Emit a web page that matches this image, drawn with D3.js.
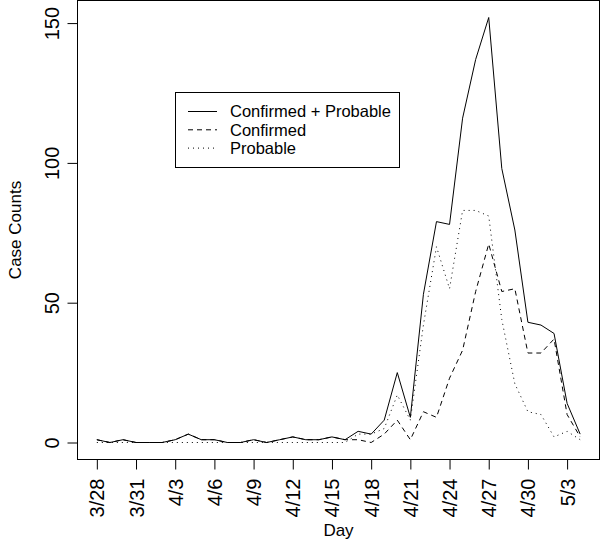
<!DOCTYPE html>
<html>
<head>
<meta charset="utf-8">
<script src="https://cdn.jsdelivr.net/npm/d3@7"></script>
<style>
  body { margin: 0; background: #fff; }
  svg { display: block; font-family: 'Liberation Sans', Arial, sans-serif; }
  .line { fill: none; stroke: #000; stroke-width: 1; }
</style>
</head>
<body>
<div id="chart"></div>
<script>
// daily counts, 3/28 .. 5/4
const days = [
  '3/28', '3/29', '3/30', '3/31', '4/1', '4/2', '4/3', '4/4', '4/5', '4/6',
  '4/7', '4/8', '4/9', '4/10', '4/11', '4/12', '4/13', '4/14', '4/15', '4/16',
  '4/17', '4/18', '4/19', '4/20', '4/21', '4/22', '4/23', '4/24', '4/25', '4/26',
  '4/27', '4/28', '4/29', '4/30', '5/1', '5/2', '5/3', '5/4',
];
const total = [
  1, 0, 1, 0, 0, 0, 1, 3, 1, 1,
  0, 0, 1, 0, 1, 2, 1, 1, 2, 1,
  4, 3, 8, 25, 9, 53, 79, 78, 116, 137,
  152, 98, 76, 43, 42, 39, 14, 3,
];
const confirmed = [
  1, 0, 1, 0, 0, 0, 1, 3, 1, 1,
  0, 0, 1, 0, 1, 2, 1, 1, 2, 1,
  1, 0, 3, 8, 1, 11, 9, 23, 33, 54,
  71, 54, 55, 32, 32, 37, 10, 2,
];
const probable = [
  0, 0, 0, 0, 0, 0, 0, 0, 0, 0,
  0, 0, 0, 0, 0, 0, 0, 0, 0, 0,
  3, 3, 5, 17, 8, 42, 70, 55, 83, 83,
  81, 44, 21, 11, 10, 2, 4, 1,
];
const tickLabels = ['3/28', '3/31', '4/3', '4/6', '4/9', '4/12', '4/15', '4/18', '4/21', '4/24', '4/27', '4/30', '5/3'];
const yTicks = [0, 50, 100, 150];
const legendNames = ['Confirmed + Probable', 'Confirmed', 'Probable'];

const width = 600;
const height = 541;
const plot = { left: 77.5, right: 599.5, top: 0.5, bottom: 459.5 };
const dashes = ['none', '5,4', '1,4'];

const svg = d3.select('#chart').append('svg')
  .attr('width', width)
  .attr('height', height);

// R style 4% padding on both axes
const n = days.length - 1;
const yMax = d3.max(total);
const x = d3.scaleLinear().domain([-0.04 * n, n * 1.04]).range([plot.left, plot.right]);
const y = d3.scaleLinear().domain([-0.04 * yMax, yMax * 1.04]).range([plot.bottom, plot.top]);

const series = [total, confirmed, probable];
const line = d3.line()
  .x((d, i) => x(i))
  .y(d => y(d));

svg.selectAll('path.line')
  .data(series)
  .enter()
  .append('path')
  .attr('class', 'line')
  .attr('stroke-dasharray', (d, i) => dashes[i])
  .attr('d', d => line(d));

svg.append('rect')
  .attr('x', plot.left)
  .attr('y', plot.top)
  .attr('width', plot.right - plot.left)
  .attr('height', plot.bottom - plot.top)
  .attr('fill', 'none')
  .attr('stroke', '#000');

const xAxis = d3.axisBottom(x)
  .tickValues(tickLabels.map(t => days.indexOf(t)))
  .tickFormat(i => days[i])
  .tickSizeInner(10)
  .tickSizeOuter(0);

const gx = svg.append('g')
  .attr('transform', `translate(0, ${plot.bottom})`)
  .call(xAxis);
gx.select('.domain').remove();
gx.selectAll('line').attr('stroke', '#000');
gx.selectAll('text')
  .attr('font-size', 20)
  .attr('fill', '#000')
  .attr('text-anchor', 'end')
  .attr('transform', 'translate(0, 19) rotate(-90)')
  .attr('x', 0)
  .attr('y', 0)
  .attr('dy', '0.35em');

const yAxis = d3.axisLeft(y)
  .tickValues(yTicks)
  .tickSizeInner(10)
  .tickSizeOuter(0);

const gy = svg.append('g')
  .attr('transform', `translate(${plot.left}, 0)`)
  .call(yAxis);
gy.select('.domain').remove();
gy.selectAll('line').attr('stroke', '#000');
gy.selectAll('text')
  .attr('font-size', 20)
  .attr('fill', '#000')
  .attr('text-anchor', 'middle')
  .attr('transform', 'translate(-19, 0) rotate(-90)')
  .attr('x', 0)
  .attr('y', 0)
  .attr('dy', 0);

svg.append('text')
  .attr('transform', `translate(21, ${(plot.top + plot.bottom) / 2}) rotate(-90)`)
  .attr('text-anchor', 'middle')
  .attr('font-size', 17)
  .text('Case Counts');

svg.append('text')
  .attr('x', (plot.left + plot.right) / 2)
  .attr('y', 536)
  .attr('text-anchor', 'middle')
  .attr('font-size', 17)
  .text('Day');

// legend
const legend = svg.append('g');
legend.append('rect')
  .attr('x', 175.5)
  .attr('y', 92.5)
  .attr('width', 224)
  .attr('height', 75)
  .attr('fill', '#fff')
  .attr('stroke', '#000');

const rows = legend.selectAll('g.row')
  .data(legendNames)
  .enter()
  .append('g')
  .attr('class', 'row')
  .attr('transform', (d, i) => `translate(0, ${111.5 + i * 18.3})`);

rows.append('line')
  .attr('x1', 188)
  .attr('x2', 217)
  .attr('stroke', '#000')
  .attr('stroke-dasharray', (d, i) => dashes[i]);

rows.append('text')
  .attr('x', 230)
  .attr('dy', '0.35em')
  .attr('font-size', 16.5)
  .text(d => d);
</script>
</body>
</html>
